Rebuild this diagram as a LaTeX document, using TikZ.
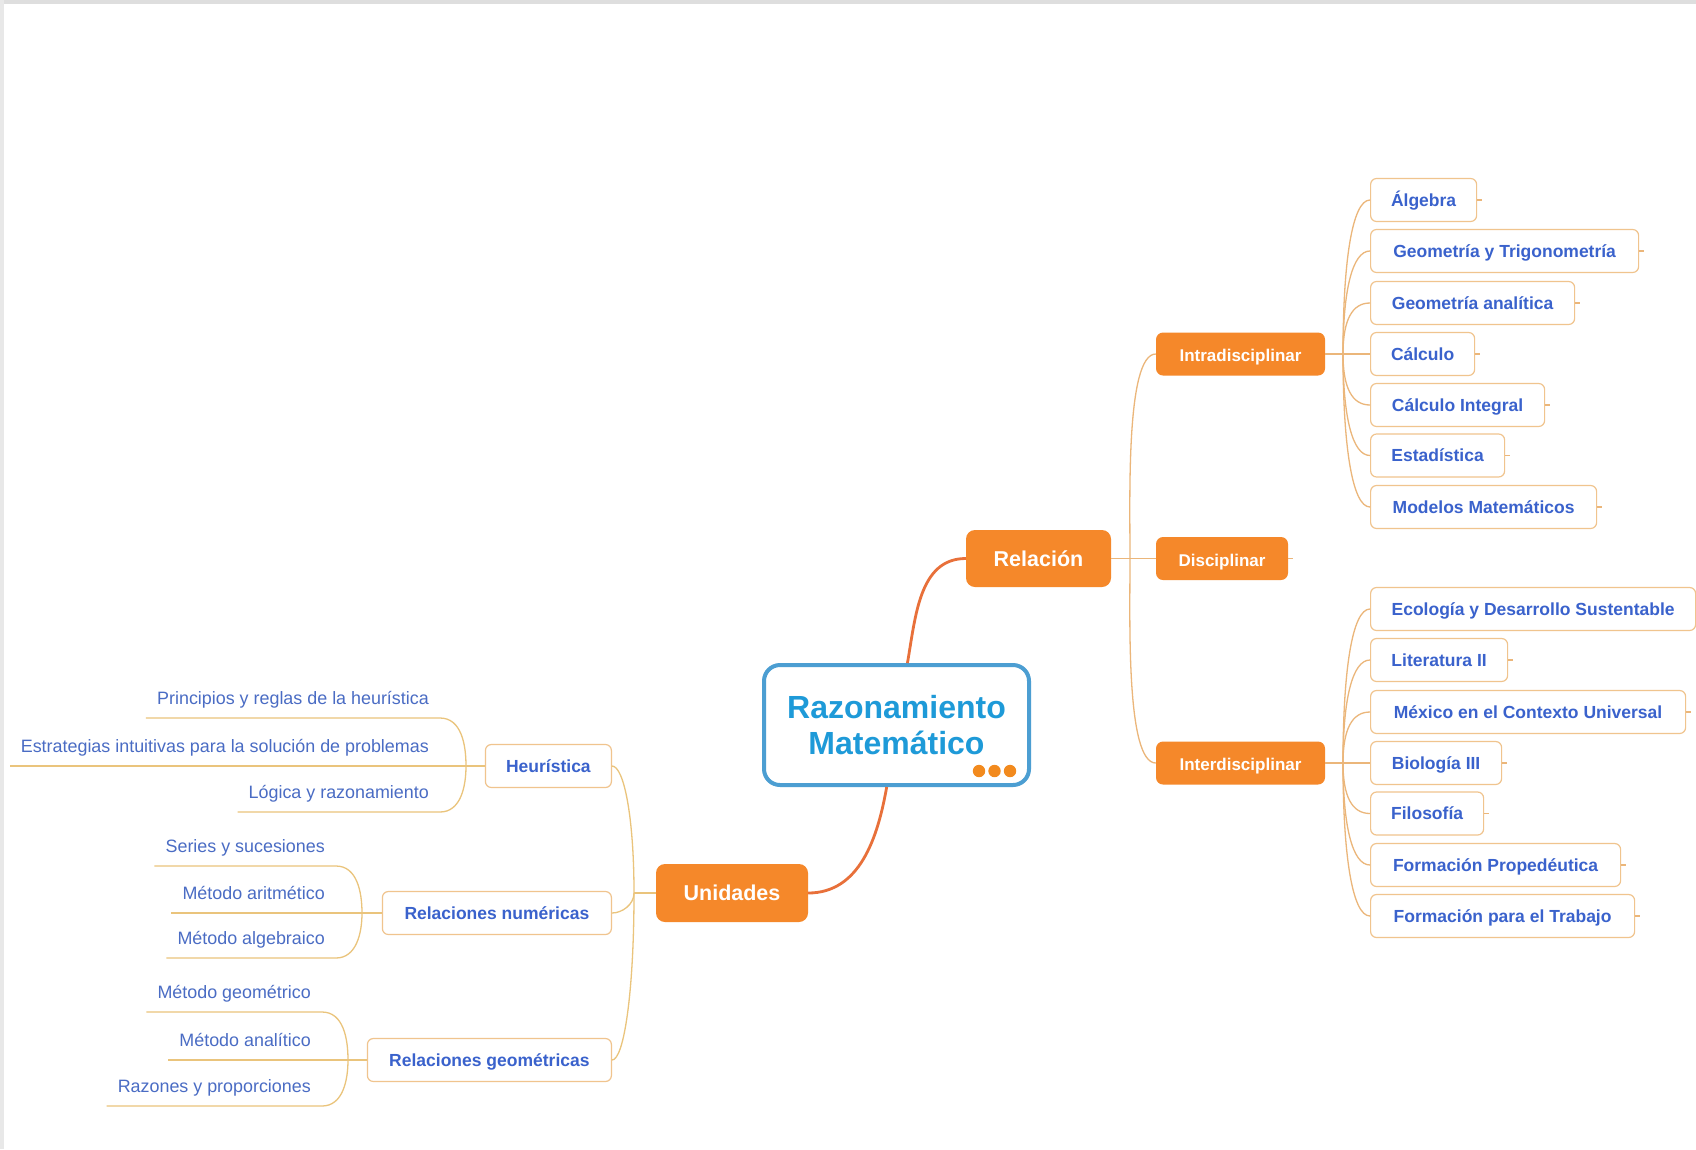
\documentclass[tikz,border=0pt]{standalone}
\usepackage{fontspec}
\setmainfont{Liberation Sans}
\definecolor{orfill}{HTML}{F5882A}
\definecolor{mainlinecol}{HTML}{E8703A}
\definecolor{branchcol}{HTML}{EBB67A}
\definecolor{branchleft}{HTML}{EAC47C}
\definecolor{leafborder}{HTML}{F0C48E}
\definecolor{leaftext}{HTML}{3A62CC}
\definecolor{lefttext}{HTML}{4A6CC4}
\definecolor{cborder}{HTML}{4C9ED2}
\definecolor{ctext}{HTML}{1E9AD8}
\definecolor{dotcol}{HTML}{F28A1E}
\begin{document}
\begin{tikzpicture}[x=1pt,y=1pt,
  central/.style={draw=cborder, line width=4pt, rounded corners=16pt, fill=white,
    minimum width=265pt, minimum height=120pt, align=center, text=ctext,
    font=\fontsize{32}{36}\selectfont\bfseries, inner sep=0pt},
  mainbox/.style={fill=orfill, rounded corners=9pt, text=white,
    font=\fontsize{21.5}{24}\selectfont\bfseries, inner sep=0pt},
  subbox/.style={fill=orfill, rounded corners=7pt, text=white,
    font=\fontsize{17}{20}\selectfont\bfseries, inner sep=0pt, minimum height=43pt,
    text height=15pt, text depth=0pt},
  leafbox/.style={draw=leafborder, line width=1.2pt, rounded corners=6pt, fill=white,
    text=leaftext, font=\fontsize{17.5}{20}\selectfont\bfseries, inner sep=0pt,
    minimum height=43pt, text height=13.4pt, text depth=1.4pt},
  lefttextnode/.style={text=lefttext, font=\fontsize{17.9}{20}\selectfont,
    inner xsep=11pt, inner ysep=9.3pt, text height=12.6pt, text depth=3.7pt},
  mainline/.style={draw=mainlinecol, line width=2.8pt},
  branch/.style={draw=branchcol, line width=1.3pt},
  branchl/.style={draw=branchleft, line width=1.3pt},
  fanup/.style={out=90, in=180, out looseness=1.5, in distance=18pt},
  fandown/.style={out=-90, in=180, out looseness=1.5, in distance=18pt},
  lfanup/.style={out=90, in=0},
  lfandown/.style={out=-90, in=0}
]
\useasboundingbox (0,0) rectangle (1696,-1149);
\fill[white] (0,0) rectangle (1696,-1149);
\fill[black!13] (0,0) rectangle (1696,-4);
\fill[black!9] (0,0) rectangle (4,-1149);

% central and main nodes
\node[central] (c) at (896.5,-725) {Razonamiento\\Matemático};
\fill[dotcol] (979,-771) circle (6.2);
\fill[dotcol] (994.5,-771) circle (6.2);
\fill[dotcol] (1010,-771) circle (6.2);

\node[mainbox, minimum width=145pt, minimum height=57pt] (rel) at (1038.5,-558.5) {Relación};
\node[mainbox, minimum width=152pt, minimum height=58pt] (uni) at (732,-893) {Unidades};

\node[subbox, minimum width=169pt] (intra) at (1240.5,-354) {Intradisciplinar};
\node[subbox, minimum width=132pt] (disc) at (1222,-558.5) {Disciplinar};
\node[subbox, minimum width=169pt] (inter) at (1240.5,-763) {Interdisciplinar};

% right leaves (intra)
\node[leafbox, anchor=west, minimum width=106pt] (a1) at (1370,-200) {Álgebra};
\node[leafbox, anchor=west, minimum width=268pt] (a2) at (1370,-251) {Geometría y Trigonometría};
\node[leafbox, anchor=west, minimum width=204pt] (a3) at (1370,-303) {Geometría analítica};
\node[leafbox, anchor=west, minimum width=104pt] (a4) at (1370,-354) {Cálculo};
\node[leafbox, anchor=west, minimum width=174pt] (a5) at (1370,-405) {Cálculo Integral};
\node[leafbox, anchor=west, minimum width=134pt] (a6) at (1370,-455.5) {Estadística};
\node[leafbox, anchor=west, minimum width=226pt] (a7) at (1370,-507) {Modelos Matemáticos};

% right leaves (inter)
\node[leafbox, anchor=west, minimum width=325pt] (b1) at (1370,-609) {Ecología y Desarrollo Sustentable};
\node[leafbox, anchor=west, minimum width=137pt] (b2) at (1370,-660) {Literatura II};
\node[leafbox, anchor=west, minimum width=315pt] (b3) at (1370,-712) {México en el Contexto Universal};
\node[leafbox, anchor=west, minimum width=131pt] (b4) at (1370,-763) {Biología III};
\node[leafbox, anchor=west, minimum width=113pt] (b5) at (1370,-813.5) {Filosofía};
\node[leafbox, anchor=west, minimum width=250pt] (b6) at (1370,-865) {Formación Propedéutica};
\node[leafbox, anchor=west, minimum width=264pt] (b7) at (1370,-916) {Formación para el Trabajo};

% left mid nodes
\node[leafbox, anchor=east, minimum width=126pt] (heu) at (612,-766) {Heurística};
\node[leafbox, anchor=east, minimum width=229pt] (num) at (612,-913) {Relaciones numéricas};
\node[leafbox, anchor=east, minimum width=244pt] (geo) at (612,-1060) {Relaciones geométricas};

% left leaves
\node[lefttextnode, anchor=south east] (h1) at (440,-718) {Principios y reglas de la heurística};
\node[lefttextnode, anchor=south east] (h2) at (440,-766) {Estrategias intuitivas para la solución de problemas};
\node[lefttextnode, anchor=south east] (h3) at (440,-812) {Lógica y razonamiento};
\node[lefttextnode, anchor=south east] (n1) at (336,-866) {Series y sucesiones};
\node[lefttextnode, anchor=south east] (n2) at (336,-913) {Método aritmético};
\node[lefttextnode, anchor=south east] (n3) at (336,-958) {Método algebraico};
\node[lefttextnode, anchor=south east] (g1) at (322,-1012) {Método geométrico};
\node[lefttextnode, anchor=south east] (g2) at (322,-1060) {Método analítico};
\node[lefttextnode, anchor=south east] (g3) at (322,-1106) {Razones y proporciones};

% main connectors
\draw[mainline] (c.80) to[out=80,in=180] (rel.west);
\draw[mainline] (c.-99) to[out=-100,in=0] (uni.east);

% Relación branches
\coordinate (rt) at (1130,-558.5);
\draw[branch] (rel.east) -- (rt);
\draw[branch] (rt) to[out=90,in=180,out distance=60pt,in distance=30pt] (intra.west);
\draw[branch] (rt) -- (disc.west);
\draw[branch] (rt) to[out=-90,in=180,out distance=60pt,in distance=30pt] (inter.west);
\draw[branch] (disc.east) -- ++(5,0);

% Intra fan
\coordinate (it) at (1343,-354);
\draw[branch] (intra.east) -- (it);
\draw[branch] (it) to[fanup] (a1.west);
\draw[branch] (it) to[fanup] (a2.west);
\draw[branch] (it) to[fanup] (a3.west);
\draw[branch] (it) -- (a4.west);
\draw[branch] (it) to[fandown] (a5.west);
\draw[branch] (it) to[fandown] (a6.west);
\draw[branch] (it) to[fandown] (a7.west);

% Inter fan
\coordinate (et) at (1343,-763);
\draw[branch] (inter.east) -- (et);
\draw[branch] (et) to[fanup] (b1.west);
\draw[branch] (et) to[fanup] (b2.west);
\draw[branch] (et) to[fanup] (b3.west);
\draw[branch] (et) -- (b4.west);
\draw[branch] (et) to[fandown] (b5.west);
\draw[branch] (et) to[fandown] (b6.west);
\draw[branch] (et) to[fandown] (b7.west);

% stubs on right leaves
\foreach \n in {a1,a2,a3,a4,a5,a6,a7,b1,b2,b3,b4,b5,b6,b7}
  \draw[branch] (\n.east) -- ++(5,0);

% Unidades fan
\coordinate (ut) at (634,-893);
\draw[branchl] (uni.west) -- (ut);
\draw[branchl] (ut) to[out=90,in=0,out looseness=1.5,in distance=12pt] (heu.east);
\draw[branchl] (ut) to[out=-90,in=0,in distance=10pt] (num.east);
\draw[branchl] (ut) to[out=-90,in=0,out looseness=1.5,in distance=12pt] (geo.east);

% Heurística fan
\coordinate (ht) at (466,-766);
\draw[branchl] (heu.west) -- (h2.south west);
\draw[branchl] (ht) to[lfanup] (h1.south east) -- (h1.south west);
\draw[branchl] (ht) to[lfandown] (h3.south east) -- (h3.south west);

% Relaciones numéricas fan
\coordinate (nt) at (362,-913);
\draw[branchl] (num.west) -- (n2.south west);
\draw[branchl] (nt) to[lfanup] (n1.south east) -- (n1.south west);
\draw[branchl] (nt) to[lfandown] (n3.south east) -- (n3.south west);

% Relaciones geométricas fan
\coordinate (gt) at (348,-1060);
\draw[branchl] (geo.west) -- (g2.south west);
\draw[branchl] (gt) to[lfanup] (g1.south east) -- (g1.south west);
\draw[branchl] (gt) to[lfandown] (g3.south east) -- (g3.south west);
\end{tikzpicture}
\end{document}
